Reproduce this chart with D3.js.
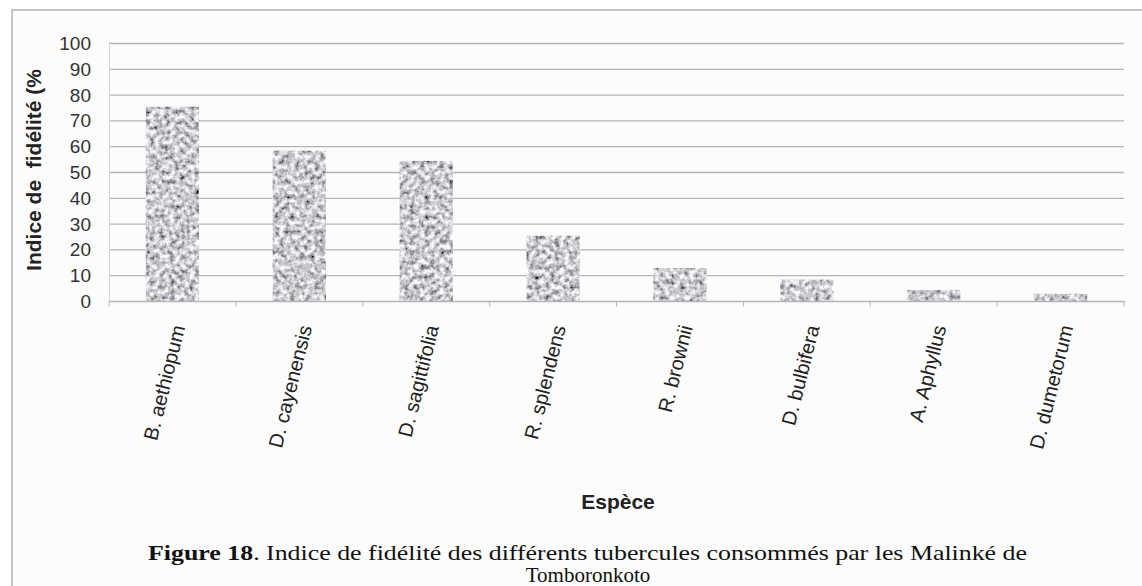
<!DOCTYPE html>
<html lang="fr">
  <head>
    <meta charset="utf-8">
    <title>Indice de fidélité</title>
    <script src="https://d3js.org/d3.v7.min.js"></script>
    <style type="text/css">
      html, body {
        margin: 0; padding: 0;
        background: #ffffff;
      }
      svg { display: block; }
    </style>
  </head>
  <body>
    <svg width="1142" height="586"></svg>
    <script type="text/javascript">

      // data
      var species = ["B. aethiopum", "D. cayenensis", "D. sagittifolia", "R. splendens",
                     "R. brownii", "D. bulbifera", "A. Aphyllus", "D. dumetorum"];
      var fidelity = [75.5, 58.5, 54.5, 25.5, 13, 8.5, 4.5, 3];
      var yTicks = [0, 10, 20, 30, 40, 50, 60, 70, 80, 90, 100];

      var w = 1142, h = 586;
      var plotL = 109, plotR = 1124, plotT = 43.5, plotB = 301.5;
      var sans = "'Liberation Sans', Arial, sans-serif";
      var serif = "'Times New Roman', 'Liberation Serif', Times, serif";

      var svg = d3.select("svg");

      // speckled grey texture for the bars
      var defs = svg.append("defs");
      var f = defs.append("filter").attr("id", "speckle")
                  .attr("x", 0).attr("y", 0).attr("width", 1).attr("height", 1);
      f.append("feTurbulence").attr("type", "fractalNoise")
       .attr("baseFrequency", 0.2).attr("numOctaves", 3).attr("seed", 5)
       .attr("result", "noise");
      f.append("feColorMatrix").attr("in", "noise").attr("type", "matrix")
       .attr("values", "1.6 0 0 0 -0.2  1.6 0 0 0 -0.2  1.6 0 0 0 -0.17  0 0 0 0 1")
       .attr("result", "grey");
      f.append("feGaussianBlur").attr("in", "grey").attr("stdDeviation", 0.5).attr("result", "soft");
      f.append("feComposite").attr("in", "soft").attr("in2", "SourceGraphic")
       .attr("operator", "in");

      // frame
      svg.append("rect")
         .attr("x", 12).attr("y", 10).attr("width", w).attr("height", h)
         .attr("fill", "#fcfcfc").attr("stroke", "#c4c4c4").attr("stroke-width", 2);

      var x = d3.scaleBand().domain(species).range([plotL, plotR]);
      var y = d3.scaleLinear().domain([0, 100]).range([plotB, plotT]);

      // gridlines
      svg.append("g").selectAll("line")
         .data(yTicks.slice(1))
         .enter().append("line")
         .attr("x1", plotL).attr("x2", plotR)
         .attr("y1", function(d) { return y(d); })
         .attr("y2", function(d) { return y(d); })
         .attr("stroke", "#b4b4b4").attr("stroke-width", 1.3);

      // y axis
      var yAxis = svg.append("g")
         .attr("transform", "translate(" + plotL + ",0)")
         .call(d3.axisLeft(y).tickValues(yTicks).tickSize(0).tickPadding(18));
      yAxis.select(".domain").attr("stroke", "#d8d8d8");
      yAxis.selectAll("text")
           .style("font-family", sans)
           .style("font-size", "19px").attr("fill", "#333");

      // bars
      svg.append("g").selectAll("rect")
         .data(fidelity)
         .enter().append("rect")
         .attr("x", function(d, i) { return x(species[i]) + x.bandwidth() * 0.29; })
         .attr("width", x.bandwidth() * 0.42)
         .attr("y", function(d) { return y(d); })
         .attr("height", function(d) { return y(0) - y(d); })
         .attr("fill", "#999")
         .attr("filter", "url(#speckle)");

      // x axis with ticks between categories
      svg.append("line")
         .attr("x1", plotL).attr("x2", plotR + 1)
         .attr("y1", plotB).attr("y2", plotB)
         .attr("stroke", "#b4b4b4").attr("stroke-width", 1.3);
      svg.append("g").selectAll("line")
         .data(d3.range(species.length + 1))
         .enter().append("line")
         .attr("x1", function(i) { return plotL + i * x.step(); })
         .attr("x2", function(i) { return plotL + i * x.step(); })
         .attr("y1", plotB).attr("y2", plotB + 5)
         .attr("stroke", "#b4b4b4");

      svg.append("g").selectAll("text")
         .data(species)
         .enter().append("text")
         .attr("transform", function(d) {
           return "translate(" + (x(d) + x.bandwidth() / 2 + 6) + "," + (plotB + 24) + ") rotate(-76)";
         })
         .attr("text-anchor", "end")
         .attr("dy", "0.35em")
         .style("font-family", sans)
         .style("font-size", "20px").attr("fill", "#222")
         .text(function(d) { return d; });

      // axis titles
      svg.append("text")
         .attr("transform", "translate(41,170) rotate(-90)")
         .attr("text-anchor", "middle")
         .style("font-family", sans)
         .style("font-size", "21px").style("font-weight", "bold")
         .style("white-space", "pre").attr("fill", "#222")
         .text("Indice de  fidélité (%");

      svg.append("text")
         .attr("x", 618).attr("y", 509)
         .attr("text-anchor", "middle")
         .style("font-family", sans)
         .style("font-size", "21px").style("font-weight", "bold")
         .attr("fill", "#222")
         .text("Espèce");

      // caption
      var cap = svg.append("text")
         .attr("x", 148).attr("y", 560)
         .style("font-family", serif)
         .style("font-size", "21px").attr("fill", "#111")
         .attr("textLength", 879).attr("lengthAdjust", "spacingAndGlyphs");
      cap.append("tspan").style("font-weight", "bold").text("Figure 18");
      cap.append("tspan").text(". Indice de fidélité des différents tubercules consommés par les Malinké de");

      svg.append("text")
         .attr("x", 588).attr("y", 582)
         .attr("text-anchor", "middle")
         .style("font-family", serif)
         .style("font-size", "21px").attr("fill", "#111")
         .text("Tomboronkoto");

    </script>
  </body>
</html>
